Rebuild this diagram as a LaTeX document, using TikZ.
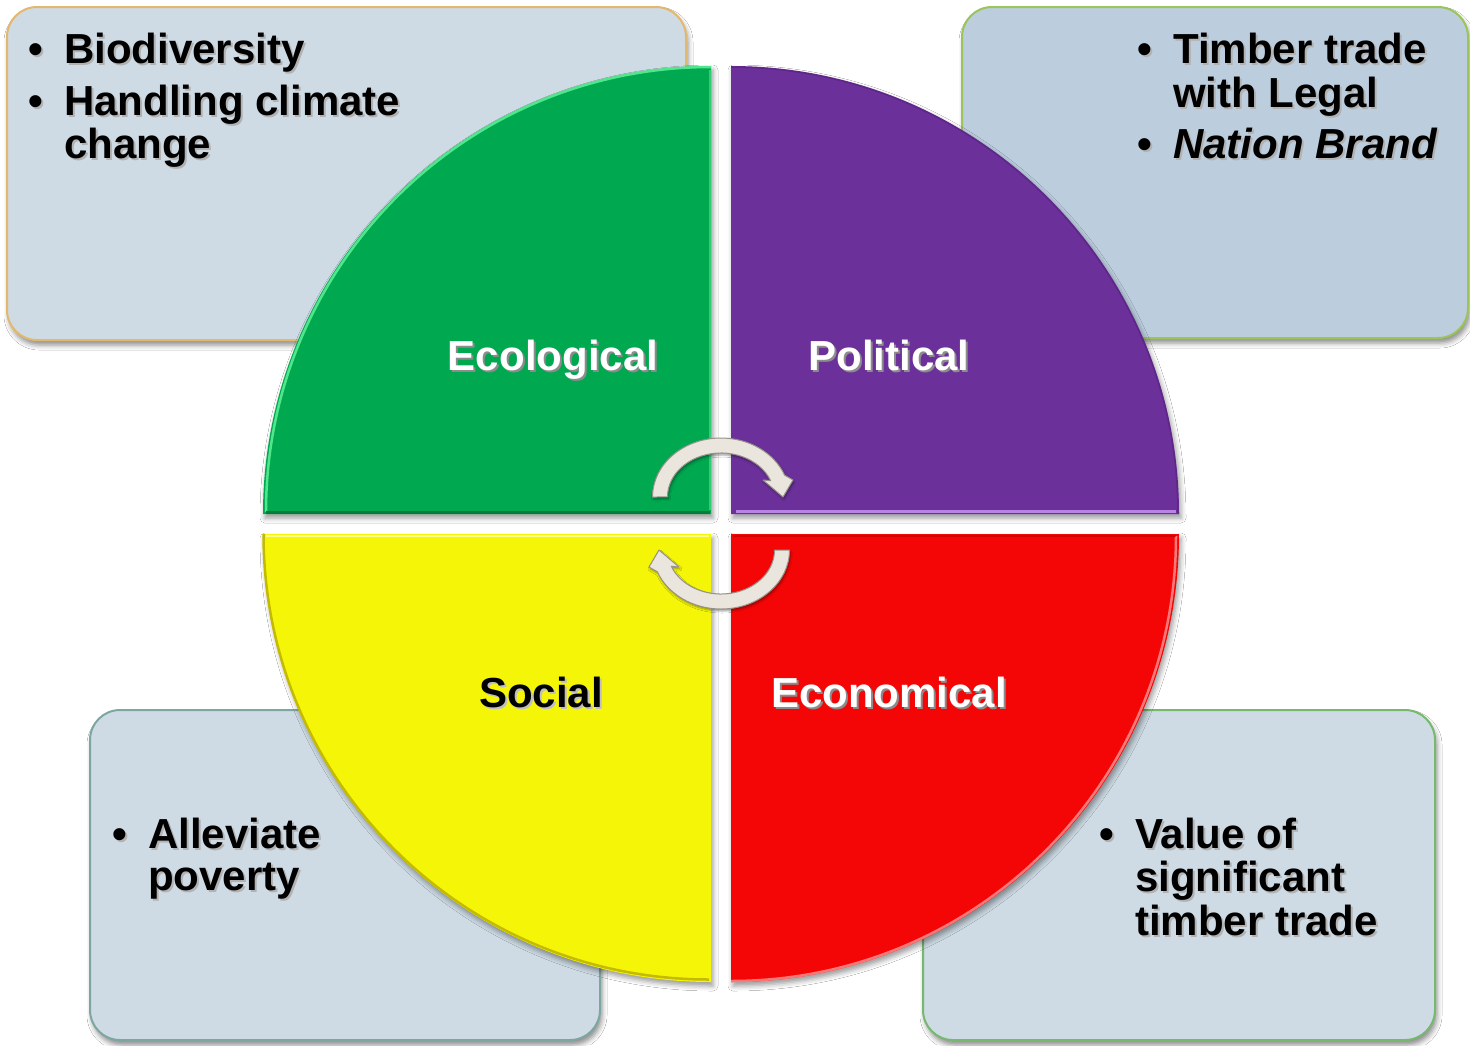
\documentclass[tikz,border=0pt]{standalone}
\usepackage{fontspec}
\setmainfont{Liberation Sans}
\usetikzlibrary{shadows.blur}

\definecolor{boxfill}{RGB}{206,219,228}
\definecolor{boxfillb}{RGB}{188,205,222}
\definecolor{edgeorange}{RGB}{226,184,110}
\definecolor{edgelime}{RGB}{155,196,90}
\definecolor{edgeteal}{RGB}{126,166,160}
\definecolor{edgegreen}{RGB}{118,184,110}
\definecolor{ecogreen}{RGB}{0,168,80}
\definecolor{ecogreenlt}{RGB}{80,230,140}
\definecolor{ecogreendk}{RGB}{0,125,58}
\definecolor{polpurple}{RGB}{108,48,154}
\definecolor{polpurplelt}{RGB}{185,130,230}
\definecolor{polpurpledk}{RGB}{80,30,120}
\definecolor{socyellow}{RGB}{245,245,8}
\definecolor{socyellowlt}{RGB}{255,255,140}
\definecolor{socyellowdk}{RGB}{196,186,0}
\definecolor{ecored}{RGB}{244,6,6}
\definecolor{ecoredlt}{RGB}{255,120,120}
\definecolor{ecoreddk}{RGB}{185,0,0}
\definecolor{silver}{RGB}{234,230,222}
\definecolor{silverdk}{RGB}{150,146,138}

% text with a soft offset shadow behind it
\newcommand\shadowtext[2]{\makebox[0pt][l]{\kern2pt\raisebox{-2pt}{\textcolor{#1}{#2}}}#2}

\tikzset{
  infobox/.style={rounded corners=30pt, line width=2pt,
    blur shadow={shadow xshift=2pt, shadow yshift=-5pt, shadow blur radius=5pt, shadow opacity=45}},
  quadrant/.style={blur shadow={shadow xshift=2pt, shadow yshift=-4pt, shadow blur radius=5pt, shadow opacity=40}},
  txt/.style={font=\fontsize{42}{46}\selectfont\bfseries, inner sep=0pt, anchor=base west},
  lab/.style={font=\fontsize{42}{46}\selectfont\bfseries, inner sep=0pt, anchor=base},
  cycarrow/.style={fill=silver, draw=silverdk, line width=1pt, line join=round,
    blur shadow={shadow xshift=1pt, shadow yshift=-2pt, shadow blur radius=2pt, shadow opacity=40}},
}

\begin{document}
\begin{tikzpicture}[x=1pt,y=-1pt]
\useasboundingbox (0,0) rectangle (1470,1045);
\fill[white] (0,0) rectangle (1470,1045);

% four text panels behind the circle
\draw[infobox, fill=boxfill, draw=edgeorange] (7,7) rectangle (686,340);
\draw[infobox, fill=boxfillb, draw=edgelime] (962,7) rectangle (1468,338);
\draw[infobox, fill=boxfill, draw=edgeteal] (90,710) rectangle (600,1040);
\draw[infobox, fill=boxfill, draw=edgegreen] (923,710) rectangle (1435,1040);

% quadrants of the circle
\fill[quadrant, ecogreen] (711,514) -- (263,514) arc[start angle=180, end angle=270, radius=448] -- cycle;
\fill[quadrant, polpurple] (731,514) -- (731,66) arc[start angle=270, end angle=360, radius=448] -- cycle;
\fill[quadrant, ecored] (731,534) -- (1179,534) arc[start angle=0, end angle=90, radius=448] -- cycle;
\fill[quadrant, socyellow] (711,534) -- (711,982) arc[start angle=90, end angle=180, radius=448] -- cycle;

% bevel edges
\draw[ecogreenlt, line width=2.5pt] (266,512) arc[start angle=180, end angle=270, radius=445];
\draw[ecogreendk, line width=3pt] (266,512.5) -- (709.5,512.5);
\draw[ecogreenlt, line width=2pt, opacity=.6] (709.5,70) -- (709.5,510);
\draw[polpurplelt, line width=3pt] (736,511) -- (1176,511);
\draw[polpurpledk, line width=1.5pt, opacity=.5] (731,67) arc[start angle=270, end angle=360, radius=447];
\draw[ecoredlt, line width=2.5pt] (1176,536) arc[start angle=0, end angle=90, radius=445];
\draw[ecoreddk, line width=2.5pt, opacity=.6] (732.5,536) -- (1176,536);
\draw[socyellowdk, line width=2.5pt] (709,979.5) arc[start angle=90, end angle=180, radius=445.5];
\draw[socyellowlt, line width=2.5pt] (266,536) -- (709,536);

% circular arrows in the centre
\path[cycarrow] (652.5,497) arc[start angle=180, end angle=338.3, x radius=68.5, y radius=59]
  -- (793,480) -- (783,497) -- (763,480) -- (770.7,480.7)
  arc[start angle=338.3, end angle=180, x radius=53.5, y radius=44] -- cycle;
\path[cycarrow, rotate around={180:(721,523.5)}] (652.5,497) arc[start angle=180, end angle=338.3, x radius=68.5, y radius=59]
  -- (793,480) -- (783,497) -- (763,480) -- (770.7,480.7)
  arc[start angle=338.3, end angle=180, x radius=53.5, y radius=44] -- cycle;

% quadrant labels
\node[lab, text=white] (ecolab) at (553,370) {\shadowtext{black!45}{Ecological}};
\node[lab, text=white] (pollab) at (889,370) {\shadowtext{black!45}{Political}};
\node[lab, text=black] (soclab) at (541,707) {\shadowtext{black!25}{Social}};
\node[lab, text=white] (econlab) at (889,707) {\shadowtext{black!45}{Economical}};

% top left panel
\node[txt] (tlb1) at (28,63) {\shadowtext{black!30}{\textbullet}};
\node[txt] (tl1) at (64,63) {\shadowtext{black!30}{Biodiversity}};
\node[txt] (tlb2) at (28,115) {\shadowtext{black!30}{\textbullet}};
\node[txt] (tl2) at (64,115) {\shadowtext{black!30}{Handling climate}};
\node[txt] (tl3) at (64,158) {\shadowtext{black!30}{change}};

% top right panel
\node[txt] (trb1) at (1137,63) {\shadowtext{black!30}{\textbullet}};
\node[txt] (tr1) at (1173,63) {\shadowtext{black!30}{Timber trade}};
\node[txt] (tr2) at (1173,107) {\shadowtext{black!30}{with Legal}};
\node[txt] (trb2) at (1137,158) {\shadowtext{black!30}{\textbullet}};
\node[txt] (tr3) at (1173,158) {\shadowtext{black!30}{\textit{Nation Brand}}};

% bottom left panel
\node[txt] (blb1) at (112,848) {\shadowtext{black!30}{\textbullet}};
\node[txt] (bl1) at (148,848) {\shadowtext{black!30}{Alleviate}};
\node[txt] (bl2) at (148,890) {\shadowtext{black!30}{poverty}};

% bottom right panel
\node[txt] (brb1) at (1099,848) {\shadowtext{black!30}{\textbullet}};
\node[txt] (br1) at (1135,848) {\shadowtext{black!30}{Value of}};
\node[txt] (br2) at (1135,891) {\shadowtext{black!30}{significant}};
\node[txt] (br3) at (1135,935) {\shadowtext{black!30}{timber trade}};
\end{tikzpicture}
\end{document}
